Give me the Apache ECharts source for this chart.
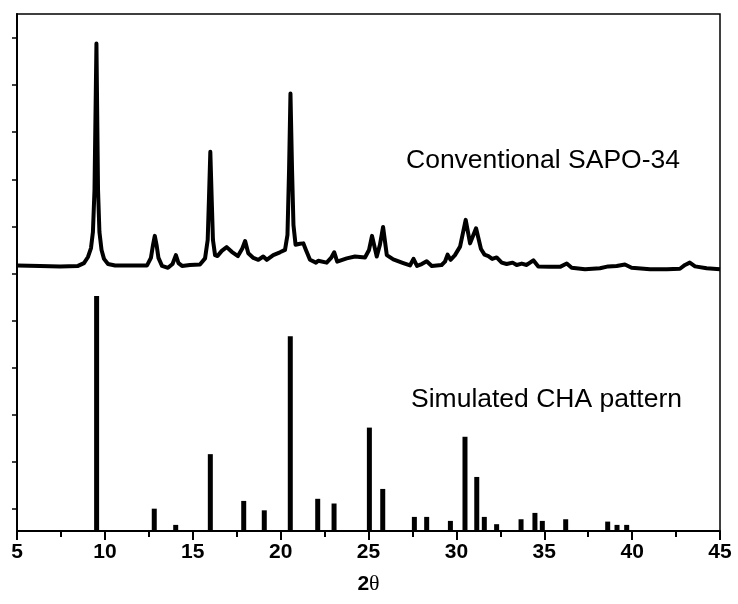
<!DOCTYPE html>
<html>
<head>
<meta charset="utf-8">
<title>SAPO-34 XRD</title>
<script src="https://cdn.jsdelivr.net/npm/echarts@6/dist/echarts.min.js"></script>
<style>
  html, body { margin: 0; padding: 0; background: #fff; }
  #main { width: 738px; height: 604px; }
</style>
</head>
<body>
<div id="main"></div>
<script>
// measured pattern of conventional SAPO-34 (2theta, intensity above its own baseline)
var sapoAngle = [5.00, 6.31, 7.45, 8.47, 8.81, 9.04, 9.21, 9.32, 9.41, 9.52, 9.61, 9.69, 9.81, 9.95, 10.18, 10.58,
  11.71, 12.40, 12.62, 12.74, 12.84, 12.94, 13.05, 13.25, 13.59, 13.85, 14.04, 14.19, 14.39, 14.84, 15.41, 15.70,
  15.85, 15.92, 16.00, 16.08, 16.15, 16.27, 16.41, 16.65, 16.93, 17.22, 17.57, 17.82, 17.98, 18.16, 18.45, 18.73,
  19.01, 19.21, 19.58, 19.96, 20.25, 20.39, 20.48, 20.56, 20.65, 20.73, 20.85, 21.10, 21.29, 21.44, 21.67, 22.01,
  22.14, 22.62, 22.87, 23.05, 23.22, 23.76, 24.23, 24.80, 25.03, 25.20, 25.47, 25.65, 25.83, 26.04, 26.41, 26.98,
  27.36, 27.56, 27.76, 28.03, 28.31, 28.60, 29.16, 29.35, 29.50, 29.67, 29.92, 30.21, 30.53, 30.78, 31.12, 31.40,
  31.60, 31.82, 32.04, 32.29, 32.58, 32.86, 33.20, 33.43, 33.72, 34.00, 34.38, 34.66, 35.33, 35.90, 36.28, 36.56,
  37.32, 38.17, 38.64, 39.12, 39.59, 39.97, 41.02, 41.98, 42.72, 43.01, 43.28, 43.58, 44.24, 45.00];
var sapoIntensity = [1.5, 1.4, 1.3, 1.4, 2.0, 3.3, 5.2, 8.6, 17.6, 48.7, 17.6, 8.6, 4.8, 2.9, 1.8, 1.5,
  1.5, 1.5, 3.1, 5.9, 7.8, 5.9, 3.1, 1.4, 1.0, 1.8, 3.7, 2.0, 1.4, 1.6, 1.7, 3.0,
  6.9, 15.4, 25.7, 15.4, 6.9, 3.7, 3.5, 4.6, 5.4, 4.4, 3.5, 5.1, 6.7, 4.1, 3.1, 2.7,
  3.4, 2.7, 3.7, 4.3, 4.8, 8.0, 21.8, 38.1, 21.8, 10.1, 5.9, 6.1, 6.2, 4.8, 2.7, 2.1,
  2.5, 2.1, 3.1, 4.3, 2.3, 3.0, 3.4, 3.2, 4.8, 7.8, 3.4, 5.9, 9.7, 3.7, 2.8, 2.0,
  1.5, 2.9, 1.4, 1.8, 2.4, 1.4, 1.6, 2.3, 3.8, 2.7, 3.7, 5.5, 11.2, 6.2, 9.4, 5.0,
  3.8, 3.5, 2.9, 3.2, 2.1, 1.8, 2.1, 1.6, 1.9, 1.6, 2.6, 1.3, 1.2, 1.2, 1.9, 1.0,
  0.7, 0.9, 1.3, 1.4, 1.7, 1.0, 0.7, 0.7, 0.8, 1.6, 2.1, 1.3, 0.9, 0.7];
var sapoOffset = 55;

// simulated CHA reflections (2theta, relative intensity %)
var chaAngle = [9.53, 12.81, 14.03, 16.00, 17.90, 19.07, 20.55, 22.11, 23.04, 25.05, 25.81, 27.61, 28.31,
  29.66, 30.49, 31.16, 31.59, 32.29, 33.68, 34.47, 34.89, 36.22, 38.61, 39.14, 39.69];
var chaIntensity = [100, 9.5, 2.6, 32.7, 12.8, 8.8, 82.9, 13.7, 11.7, 44, 17.9, 6, 6,
  4.3, 40.1, 23, 6, 2.9, 5, 7.7, 4.3, 5, 4, 2.6, 2.6];
var chaScale = 0.5;

var xTicks = [5, 10, 15, 20, 25, 30, 35, 40, 45];
var seriesNames = ['Conventional SAPO-34', 'Simulated CHA pattern'];

var chart = echarts.init(document.getElementById('main'));

var sapoData = sapoAngle.map(function (a, i) { return [a, sapoIntensity[i] + sapoOffset]; });
var chaData = chaAngle.map(function (a, i) { return [a, chaIntensity[i] * chaScale]; });

var option = {
  animation: false,
  backgroundColor: '#fff',
  grid: [
    { left: 17, right: 18, top: 14, bottom: 73, show: true, borderColor: '#000', borderWidth: 1.5, containLabel: false },
    { left: 17, right: 18, top: 38, bottom: 95, containLabel: false }
  ],
  xAxis: [{
    type: 'value',
    gridIndex: 0,
    min: xTicks[0],
    max: xTicks[xTicks.length - 1],
    interval: 5,
    splitLine: { show: false },
    axisLine: { lineStyle: { color: '#000', width: 2 } },
    axisTick: { inside: false, length: 9, lineStyle: { color: '#000', width: 2 } },
    minorTick: { show: true, splitNumber: 2, length: 6, lineStyle: { color: '#000', width: 2 } },
    axisLabel: { color: '#000', fontFamily: 'Liberation Sans, Arial', fontWeight: 'bold', fontSize: 21, margin: 11 },
    name: '{a|2}{b|θ}',
    nameLocation: 'middle',
    nameGap: 42,
    nameTextStyle: {
      rich: {
        a: { fontFamily: 'Liberation Sans, Arial', fontWeight: 'bold', fontSize: 21, color: '#000' },
        b: { fontFamily: 'Liberation Serif, Times New Roman', fontSize: 22, color: '#000' }
      }
    }
  }, {
    type: 'value', gridIndex: 1, min: 5, max: 45, show: false
  }],
  yAxis: [{
    type: 'value',
    gridIndex: 0,
    min: 0,
    max: 110,
    splitLine: { show: false },
    axisLine: { show: true, lineStyle: { color: '#000', width: 2 } },
    axisTick: { show: false },
    axisLabel: { show: false }
  }, {
    type: 'value',
    gridIndex: 1,
    min: 0,
    max: 10,
    interval: 1,
    splitLine: { show: false },
    axisLine: { show: false },
    axisTick: { show: true, inside: false, length: 5, lineStyle: { color: '#000', width: 1.5 } },
    axisLabel: { show: false }
  }],
  graphic: [
    { type: 'text', x: 406, y: 161, style: { text: seriesNames[0], fill: '#000', font: '26.5px "Liberation Sans", Arial', textAlign: 'left', textVerticalAlign: 'middle' } },
    { type: 'text', x: 411, y: 400, style: { text: seriesNames[1], fill: '#000', font: '26.5px "Liberation Sans", Arial', textAlign: 'left', textVerticalAlign: 'middle' } }
  ],
  series: [{
    name: seriesNames[0],
    type: 'line',
    xAxisIndex: 0,
    yAxisIndex: 0,
    data: sapoData,
    showSymbol: false,
    symbol: 'none',
    lineStyle: { color: '#000', width: 4, join: 'round' }
  }, {
    name: seriesNames[1],
    type: 'bar',
    xAxisIndex: 0,
    yAxisIndex: 0,
    data: chaData,
    barWidth: 5,
    itemStyle: { color: '#000' }
  }]
};

chart.setOption(option);
</script>
</body>
</html>
